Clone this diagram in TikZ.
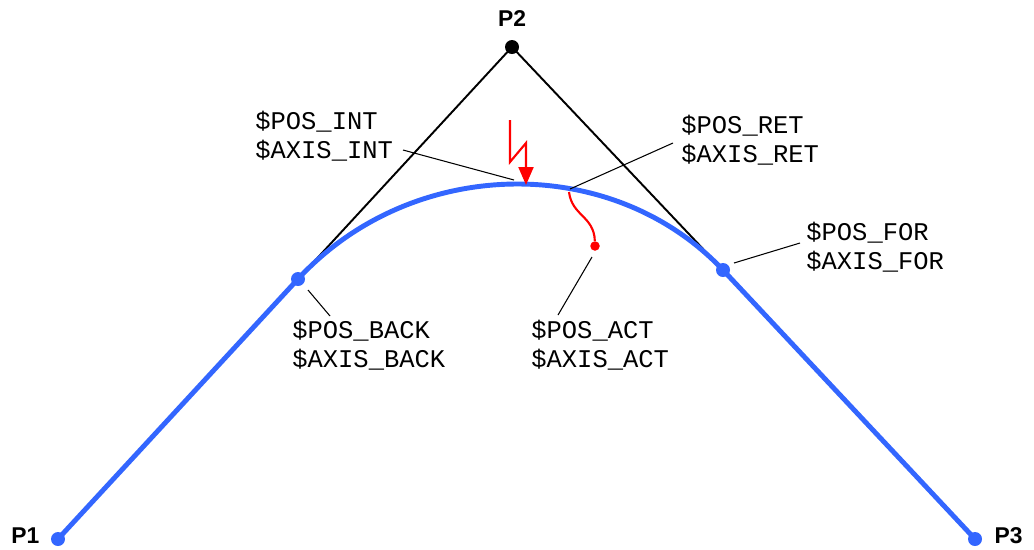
\documentclass[tikz,border=0pt]{standalone}
\usepackage{fontspec}
\setmainfont{Liberation Sans}
\newfontfamily\varfont{Liberation Mono}
\usepackage{tikz}
\usetikzlibrary{positioning,arrows.meta,calc}
\definecolor{pathblue}{RGB}{51,102,255}
\tikzset{
    cornerpoint/.style={circle, fill=black, minimum size=0.28cm, inner sep=0pt},
    pathpoint/.style={circle, fill=pathblue, minimum size=0.28cm, inner sep=0pt},
    actpoint/.style={circle, fill=red, minimum size=0.19cm, inner sep=0pt},
    cornerlabel/.style={font=\fontsize{13}{15}\selectfont\bfseries, inner sep=0pt},
    varlabel/.style={font=\fontsize{14.5}{16.5}\varfont, align=left, anchor=west, inner sep=0pt},
    blendpath/.style={draw=pathblue, line width=2.8pt},
    tangentline/.style={draw, line width=1.1pt},
    leader/.style={draw, line width=0.6pt},
    jumparrow/.style={draw=red, line width=1.2pt, miter limit=10, -{Triangle[length=0.36cm, width=0.3cm]}},
    actcurve/.style={draw=red, line width=1.2pt}
}

\begin{document}
\begin{tikzpicture}[x=0.02cm, y=-0.02cm]
    \useasboundingbox (0,0) rectangle (1034,549);

    % corner points
    \node[pathpoint] (p1) at (58,539) {};
    \node[cornerpoint] (p2) at (512,47) {};
    \node[pathpoint] (p3) at (975,539) {};
    \node[cornerlabel, left=0.22cm of p1, yshift=0.06cm] (p1label) {P1};
    \node[cornerlabel, above=0.26cm of p2] (p2label) {P2};
    \node[cornerlabel, right=0.24cm of p3, yshift=0.06cm] (p3label) {P3};

    % blend points
    \coordinate (back) at (298,279);
    \coordinate (fore) at (723,270);

    \draw[tangentline] (back) -- (p2.center) -- (fore);
    \draw[blendpath] (p1.center) -- (back)
        .. controls ($(back)!0.53!(p2.center)$) and ($(fore)!0.53!(p2.center)$) .. (fore)
        -- (p3.center);
    \node[pathpoint] (posback) at (back) {};
    \node[pathpoint] (posfor) at (fore) {};

    % interrupt and return
    \coordinate (jumpstart) at (510,120);
    \coordinate (jumpa) at (510,162);
    \coordinate (jumpb) at (526,143);
    \coordinate (intpt) at (526,185);
    \draw[jumparrow] (jumpstart) -- (jumpa) -- (jumpb) -- (intpt);
    \coordinate (retpt) at (569,192);
    \node[actpoint] (act) at (595,246) {};
    \draw[actcurve] (retpt) .. controls (572,216) and (594,216) .. (act);

    % labels
    \node[varlabel] (intlabel) at (255,136) {\$POS\_INT\\\$AXIS\_INT};
    \node[varlabel] (retlabel) at (681,140) {\$POS\_RET\\\$AXIS\_RET};
    \node[varlabel] (forlabel) at (806,247) {\$POS\_FOR\\\$AXIS\_FOR};
    \node[varlabel] (backlabel) at (292,345) {\$POS\_BACK\\\$AXIS\_BACK};
    \node[varlabel] (actlabel) at (531,345) {\$POS\_ACT\\\$AXIS\_ACT};

    \draw[leader] (403,150) coordinate (intfoot) -- (514,180) coordinate (inttip);
    \draw[leader] (673,143) coordinate (retfoot) -- (570,189) coordinate (rettip);
    \draw[leader] (800,243) coordinate (forfoot) -- (734,263) coordinate (fortip);
    \draw[leader] (330,316) coordinate (backfoot) -- (308,290) coordinate (backtip);
    \draw[leader] (558,315) coordinate (actfoot) -- (592,257) coordinate (acttip);
\end{tikzpicture}
\end{document}
